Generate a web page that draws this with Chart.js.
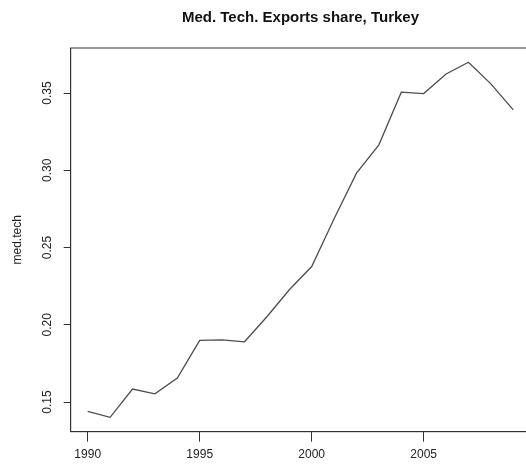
<!DOCTYPE html>
<html lang="en">
    <head>
        <meta charset="UTF-8" />
        <title>Med. Tech. Exports share, Turkey</title>
        <script src="https://cdn.jsdelivr.net/npm/chart.js"></script>
    </head>
    <body>
        <style>
            html,
            body {
                margin: 0;
                padding: 0;
                overflow: hidden;
                background-color: white;
            }

            #chart {
                display: block;
            }
        </style>
        <canvas id="chart" width="540" height="464"></canvas>
        <script>
            const years = [
                1990, 1991, 1992, 1993, 1994, 1995, 1996, 1997, 1998, 1999,
                2000, 2001, 2002, 2003, 2004, 2005, 2006, 2007, 2008, 2009,
            ];

            const medTech = [
                0.1439, 0.1401, 0.1584, 0.1553, 0.1655, 0.1899, 0.1903, 0.189,
                0.2052, 0.2227, 0.2377, 0.2686, 0.2982, 0.3165, 0.3506, 0.3497,
                0.3624, 0.37, 0.356, 0.3391,
            ];

            const xTicks = [1990, 1995, 2000, 2005];
            const yTicks = [0.15, 0.2, 0.25, 0.3, 0.35];

            const font = "'Liberation Sans', Arial, Helvetica, sans-serif";
            const ink = "#222";

            // box around the plot region, like R's box()
            const frame = {
                id: "frame",
                afterDraw(chart) {
                    const { ctx, chartArea: a } = chart;
                    ctx.save();
                    ctx.strokeStyle = "#333";
                    ctx.lineWidth = 1;
                    ctx.strokeRect(a.left, a.top, a.right - a.left, a.bottom - a.top);
                    ctx.restore();
                },
            };

            var data = {
                datasets: [
                    {
                        label: "med.tech",
                        data: years.map((y, i) => ({ x: y, y: medTech[i] })),
                        borderColor: "#4d4d4d",
                        borderWidth: 1.3,
                        pointRadius: 0,
                        tension: 0,
                        fill: false,
                    },
                ],
            };

            var options = {
                responsive: false,
                animation: false,
                layout: {
                    padding: { left: 0, right: 9.7, top: 0, bottom: 0 },
                },
                plugins: {
                    legend: { display: false },
                    tooltip: { enabled: false },
                    title: {
                        display: true,
                        fullSize: false,
                        text: "Med. Tech. Exports share, Turkey",
                        color: "#111",
                        font: { family: font, size: 15, weight: "bold", lineHeight: 1.2 },
                        padding: { top: 9, bottom: 21 },
                    },
                },
                scales: {
                    x: {
                        type: "linear",
                        min: 1989.24,
                        max: 2009.76,
                        afterBuildTicks: (s) => {
                            s.ticks = xTicks.map((v) => ({ value: v }));
                        },
                        afterFit: (s) => {
                            s.height = 32.3;
                        },
                        grid: {
                            drawOnChartArea: false,
                            drawTicks: true,
                            tickLength: 10,
                            tickColor: "#333",
                        },
                        border: { display: true, color: "#333" },
                        ticks: {
                            color: ink,
                            font: { family: font, size: 12 },
                            padding: 6,
                            maxRotation: 0,
                            callback: (v) => String(v),
                        },
                    },
                    y: {
                        min: 0.1308,
                        max: 0.3792,
                        afterBuildTicks: (s) => {
                            s.ticks = yTicks.map((v) => ({ value: v }));
                        },
                        afterFit: (s) => {
                            s.width = 70.7;
                        },
                        grid: {
                            drawOnChartArea: false,
                            drawTicks: true,
                            tickLength: 7,
                            tickColor: "#333",
                        },
                        border: { display: true, color: "#333" },
                        title: {
                            display: true,
                            text: "med.tech",
                            color: ink,
                            font: { family: font, size: 12, lineHeight: 1.2 },
                            padding: { top: 10, bottom: 0 },
                        },
                        ticks: {
                            color: ink,
                            font: { family: font, size: 12 },
                            padding: 4,
                            minRotation: 90,
                            maxRotation: 90,
                            crossAlign: "center",
                            callback: (v) => v.toFixed(2),
                        },
                    },
                },
            };

            new Chart("chart", {
                type: "line",
                data: data,
                options: options,
                plugins: [frame],
            });
        </script>
    </body>
</html>
